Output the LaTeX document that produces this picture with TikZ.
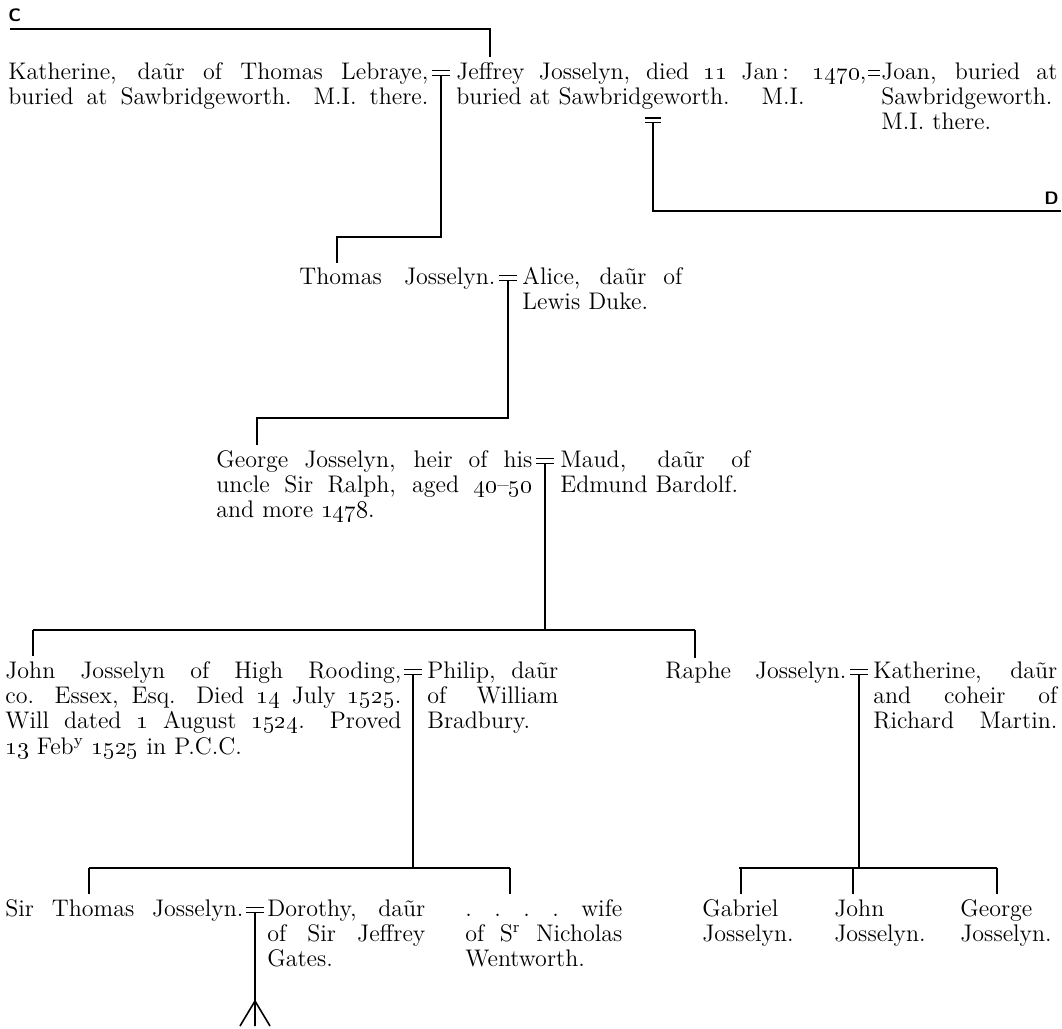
\documentclass[tikz,border=0pt]{standalone}
\usepackage{tikz}

% a line set full width, spaces stretched
\newcommand{\fl}[1]{\leavevmode\hbox to \linewidth{\spaceskip=0.33em plus 2em minus 0.05em
  \xspaceskip=0.6em plus 3em minus 0.05em #1}}
% marriage sign: [half width]{name}{x}{baseline}
\newcommand{\wed}[4][9]{%
  \draw[line width=0.6pt] (#3-#1,#4-8.5) -- (#3+#1,#4-8.5) (#3-#1,#4-3.5) -- (#3+#1,#4-3.5);
  \coordinate (#2) at (#3,#4-3.5);}

\tikzset{
  per/.style={anchor=base west, inner sep=0pt, text width=#1, align=left,
    font=\fontsize{12}{12.7}\selectfont},
  ped/.style={line width=0.8pt},
  tag/.style={inner sep=0pt, font=\fontsize{9}{10}\sffamily\bfseries},
}

\begin{document}
\begin{tikzpicture}[x=0.5pt, y=-0.5pt]
    \useasboundingbox (0,0) rectangle (1062,1029);

    % continuation marks
    \node[tag, anchor=base west] (labC) at (8,21) {C};
    \node[tag, anchor=base east] (labD) at (1059,204) {D};

    % first generation
    \node[per=210pt] (kath) at (8,79) {\fl{Katherine, da\~ur of Thomas Lebraye,}\\
        \fl{buried at Sawbridgeworth. M.I. there.}};
    \node[per=205pt] (jeff) at (456,79) {\fl{Jeffrey Josselyn, died \oldstylenums{11} Jan\,: \oldstylenums{1470},}\\
        buried at Sawbridgeworth.\hspace{16pt}M.I.};
    \node[per=88pt] (joan) at (881,79) {\fl{Joan, buried at}\\ Sawbridgeworth.\\ M.I. there.};
    \wed{m1}{441}{79}
    \wed[6]{m2}{873.5}{79}
    % issue of Jeffrey and Joan
    \draw[line width=0.6pt] (645,118) -- (661,118) (645,122.5) -- (661,122.5);
    \coordinate (mD) at (653,122.5);

    % second generation
    \node[per=98pt] (thomas) at (299,284) {\fl{Thomas Josselyn.}};
    \node[per=80pt] (alice) at (522,284) {\fl{Alice, da\~ur of}\\ Lewis Duke.};
    \wed{m3}{508}{284}

    % third generation
    \node[per=158pt] (george) at (216,467) {\fl{George Josselyn, heir of his}\\
        \fl{uncle Sir Ralph, aged \oldstylenums{40}--\oldstylenums{50}}\\ and more \oldstylenums{1478}.};
    \node[per=95pt] (maud) at (560,467) {\fl{Maud, da\~ur of}\\ Edmund Bardolf.};
    \wed{m4}{545}{467}

    % fourth generation
    \node[per=198pt] (john) at (5,678) {\fl{John Josselyn of High Rooding,}\\
        \fl{co. Essex, Esq. Died \oldstylenums{14} July \oldstylenums{1525}.}\\
        \fl{Will dated \oldstylenums{1} August \oldstylenums{1524}. Proved}\\
        \oldstylenums{13} Feb\textsuperscript{y} \oldstylenums{1525} in P.C.C.};
    \node[per=65.5pt] (philip) at (427,678) {\fl{Philip, da\~ur}\\ \fl{of William}\\ Bradbury.};
    \wed{m5}{413}{678}
    \node[per=90.5pt] (raphe) at (665,678) {\fl{Raphe Josselyn.}};
    \node[per=92pt] (kathm) at (873,678) {\fl{Katherine, da\~ur}\\ \fl{and coheir of}\\ \fl{Richard Martin.}};
    \wed{m6}{859}{678}

    % fifth generation
    \node[per=119pt] (sirthomas) at (5,916) {\fl{Sir Thomas Josselyn.}};
    \node[per=79pt] (dorothy) at (267,916) {\fl{Dorothy, da\~ur}\\ \fl{of Sir Jeffrey}\\ Gates.};
    \wed{m7}{255}{916}
    \node[per=78.5pt] (wife) at (465,916) {\fl{. . . . wife}\\ \fl{of S\textsuperscript{r} Nicholas}\\ Wentworth.};
    \node[per=50pt] (gabriel) at (702,916) {Gabriel\\ Josselyn.};
    \node[per=50pt] (johnj) at (834,916) {John\\ Josselyn.};
    \node[per=50pt] (georgej) at (960,916) {George\\ Josselyn.};

    % lines of descent
    \coordinate (cL) at (10,29);
    \coordinate (cJ) at (490,57);
    \draw[ped] (cL) -| (cJ);

    \coordinate (tUp) at (337,237);
    \coordinate (tIn) at (337,263);
    \draw[ped] (m1) |- (tUp) -- (tIn);

    \coordinate (dR) at (1061,211);
    \draw[ped] (mD) |- (dR);

    \coordinate (gUp) at (257,418);
    \coordinate (gIn) at (257,445);
    \draw[ped] (m3) |- (gUp) -- (gIn);

    \coordinate (jA) at (33,630);
    \coordinate (jB) at (695,630);
    \draw[ped] (m4) -- (m4 |- jA);
    \draw[ped] (jA) -- (jB);
    \draw[ped] (jA) -- ++(0,26);
    \draw[ped] (jB) -- ++(0,28);

    \coordinate (sA) at (89,868);
    \coordinate (sB) at (510,868);
    \draw[ped] (m5) -- (m5 |- sA);
    \draw[ped] (sA) -- (sB);
    \draw[ped] (sA) -- ++(0,26);
    \draw[ped] (sB) -- ++(0,26);

    \coordinate (rA) at (739,868);
    \coordinate (rB) at (997,868);
    \draw[ped] (m6) -- (m6 |- rA);
    \draw[ped] (rA) -- (rB);
    \foreach \x in {741,853,997}
        \draw[ped] (\x,868) -- (\x,894);

    % issue of Sir Thomas
    \coordinate (cf) at (255,1001);
    \draw[ped] (m7) -- (cf) -- ++(0,25) (cf) -- ++(-15,25) (cf) -- ++(15,25);
\end{tikzpicture}
\end{document}
